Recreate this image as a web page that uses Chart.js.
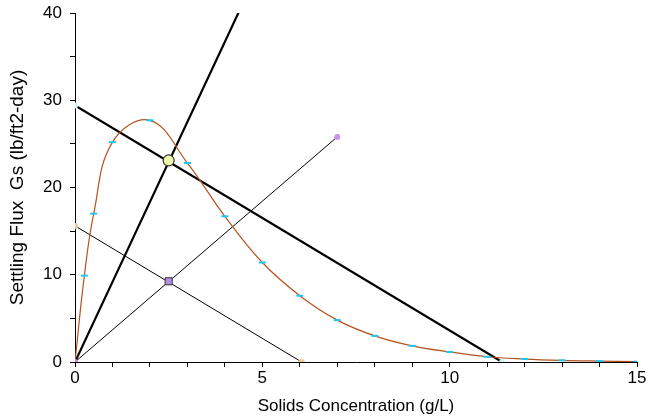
<!DOCTYPE html>
<html>
<head>
<meta charset="utf-8">
<script src="https://cdn.jsdelivr.net/npm/chart.js@4.4.1/dist/chart.umd.min.js"></script>
<style>
  html, body { margin: 0; padding: 0; background: #fff; }
  #wrap { width: 649px; height: 419px; }
</style>
</head>
<body>
<div id="wrap"><canvas id="fluxChart"></canvas></div>
<script>
// Batch flux curve
const fluxConc = [0, 0.25, 0.5, 1, 2, 3, 4, 5, 6, 7, 8, 9, 10, 11, 12, 13, 14, 15];
const fluxValues = [0, 9.9, 17.0, 25.2, 27.7, 22.8, 16.7, 11.4, 7.6, 4.8, 3.0, 1.85, 1.15, 0.6, 0.34, 0.19, 0.11, 0.05];

// Straight lines
const opLineConc = [0, 11.4];
const opLineFlux = [29.4, 0];
const loadLineConc = [0, 4.6];
const loadLineFlux = [0, 42.2];
const thinRayConc = [0, 7];
const thinRayFlux = [0, 25.8];
const thinOpConc = [0, 6.05];
const thinOpFlux = [15.6, 0];

// Intersection markers
const stateConc = [2.5];
const stateFlux = [23.1];
const lowStateConc = [2.5];
const lowStateFlux = [9.25];

const yTickLabels = [0, 10, 20, 30, 40];
const xTickLabels = [0, 5, 10, 15];

const toXY = (xs, ys) => xs.map((x, i) => ({ x: x, y: ys[i] }));

// end dots of the straight lines, drawn on top of everything
const endDots = [
  { x: thinRayConc[0], y: thinRayFlux[0] },
  { x: opLineConc[0], y: opLineFlux[0] },
  { x: opLineConc[1], y: opLineFlux[1] },
  { x: thinOpConc[0], y: thinOpFlux[0] },
  { x: thinOpConc[1], y: thinOpFlux[1] },
  { x: thinRayConc[1], y: thinRayFlux[1] }
];
const endDotColors = ["#c08ef2", "#cdf6f6", "#cdf6f6", "#f6c896", "#f6c896", "#c992f2"];

const font = "'Liberation Sans', Arial, sans-serif";

const ctx = document.getElementById("fluxChart");
const chart = new Chart(ctx, {
  type: "line",
  data: {
    datasets: [
      {
        data: endDots,
        showLine: false,
        pointRadius: 3,
        pointBorderWidth: 0,
        pointBackgroundColor: endDotColors
      },
      {
        // big circle where the thick lines cross
        data: toXY(stateConc, stateFlux),
        showLine: false,
        pointRadius: 5.5,
        pointBackgroundColor: "#eef7a8",
        pointBorderColor: "#333",
        pointBorderWidth: 1.2
      },
      {
        data: toXY(lowStateConc, lowStateFlux),
        showLine: false,
        pointStyle: "rect",
        pointRadius: 5,
        pointBackgroundColor: "#b78ce8",
        pointBorderColor: "#333",
        pointBorderWidth: 1
      },
      {
        data: toXY(fluxConc, fluxValues),
        borderColor: "#b5531f",
        borderWidth: 1.2,
        tension: 0.4,
        pointStyle: "line",
        pointRadius: fluxConc.map((c) => (c === 0 ? 0 : 3.5)),
        pointBorderColor: "#1ec6f2",
        pointBorderWidth: 2
      },
      {
        data: toXY(opLineConc, opLineFlux),
        borderColor: "#000",
        borderWidth: 2.2,
        pointRadius: 0
      },
      {
        data: toXY(loadLineConc, loadLineFlux),
        borderColor: "#000",
        borderWidth: 2.2,
        pointRadius: 0
      },
      {
        data: toXY(thinRayConc, thinRayFlux),
        borderColor: "#000",
        borderWidth: 1,
        pointRadius: 0
      },
      {
        data: toXY(thinOpConc, thinOpFlux),
        borderColor: "#000",
        borderWidth: 1,
        pointRadius: 0
      }
    ]
  },
  options: {
    responsive: true,
    maintainAspectRatio: false,
    animation: false,
    layout: { padding: { top: 13, right: 12, left: 0, bottom: 0 } },
    plugins: {
      legend: { display: false },
      tooltip: { enabled: false }
    },
    scales: {
      x: {
        type: "linear",
        min: 0,
        max: 15,
        border: { display: true, color: "#000", width: 1 },
        grid: { drawOnChartArea: false, drawTicks: true, tickLength: 5, color: "#000" },
        ticks: {
          stepSize: 1,
          color: "#000",
          padding: 1,
          maxRotation: 0,
          autoSkip: false,
          font: { family: font, size: 17 },
          callback: (v) => (xTickLabels.includes(v) ? v : "")
        },
        title: {
          display: true,
          text: "Solids Concentration (g/L)",
          color: "#000",
          padding: { top: 0, bottom: 2 },
          font: { family: font, size: 17 }
        },
        afterFit: (scale) => {
          scale.height = 57;
          scale.paddingLeft = 0;
          scale.paddingRight = 0;
        }
      },
      y: {
        type: "linear",
        min: 0,
        max: 40,
        border: { display: true, color: "#000", width: 1 },
        grid: { drawOnChartArea: false, drawTicks: true, tickLength: 5, color: "#000" },
        ticks: {
          stepSize: 5,
          color: "#000",
          padding: 8,
          autoSkip: false,
          font: { family: font, size: 17 },
          callback: (v) => (yTickLabels.includes(v) ? v : "")
        },
        title: {
          display: true,
          text: "Settling Flux  Gs (lb/ft2-day)",
          color: "#000",
          padding: { top: 6, bottom: 0 },
          font: { family: font, size: 19 }
        },
        afterFit: (scale) => {
          scale.width = 75;
          scale.paddingTop = 0;
          scale.paddingBottom = 0;
        }
      }
    }
  }
});
</script>
</body>
</html>
